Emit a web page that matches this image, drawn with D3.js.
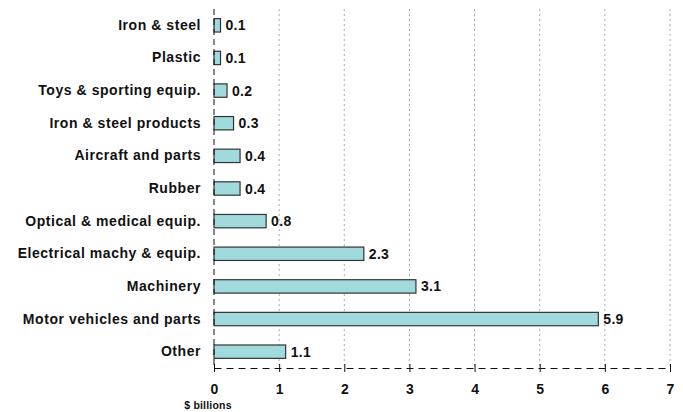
<!DOCTYPE html>
<html>
<head>
<meta charset="utf-8">
<script src="https://cdn.jsdelivr.net/npm/d3@7"></script>
<style>
  html, body { margin: 0; padding: 0; background: #fff; }
  svg { display: block; font-family: "Liberation Sans", Arial, sans-serif; }
</style>
</head>
<body>
<svg id="chart" width="683" height="412"></svg>
<script>
// Categories from top to bottom and their values ($ billions)
const categories = [
  "Iron & steel", "Plastic", "Toys & sporting equip.", "Iron & steel products",
  "Aircraft and parts", "Rubber", "Optical & medical equip.",
  "Electrical machy & equip.", "Machinery", "Motor vehicles and parts", "Other"
];
const values = [0.1, 0.1, 0.2, 0.3, 0.4, 0.4, 0.8, 2.3, 3.1, 5.9, 1.1];
const xTicks = [0, 1, 2, 3, 4, 5, 6, 7];
const xTitle = "$ billions";

const svg = d3.select("#chart");
const plotLeft = 214, plotRight = 670, plotTop = 9, plotBottom = 368;
const fontFamily = "Liberation Sans, Arial, sans-serif";

const x = d3.scaleLinear().domain([0, 7]).range([plotLeft, plotRight]);
const y = d3.scaleBand().domain(categories).range([plotTop, plotBottom]).paddingInner(0.59).paddingOuter(0.295);

// Dotted vertical gridlines
svg.append("g")
  .selectAll("line")
  .data(xTicks.filter(d => d > 0))
  .join("line")
  .attr("x1", d => x(d)).attr("x2", d => x(d))
  .attr("y1", plotTop).attr("y2", plotBottom)
  .attr("stroke", "#aaa")
  .attr("stroke-width", 1)
  .attr("stroke-dasharray", "2,3");

// Bars
svg.append("g")
  .selectAll("rect")
  .data(categories)
  .join("rect")
  .attr("x", x(0))
  .attr("y", d => y(d))
  .attr("width", (d, i) => x(values[i]) - x(0))
  .attr("height", y.bandwidth())
  .attr("fill", "#a0dadd")
  .attr("stroke", "#333")
  .attr("stroke-width", 1.2);

// Value labels
svg.append("g")
  .selectAll("text")
  .data(categories)
  .join("text")
  .attr("x", (d, i) => x(values[i]) + 5)
  .attr("y", d => y(d) + y.bandwidth() / 2)
  .attr("dy", "0.36em")
  .attr("font-size", 14)
  .attr("letter-spacing", 0.3)
  .attr("font-weight", "bold")
  .attr("fill", "#111")
  .text((d, i) => values[i].toFixed(1));

// Category axis (dashed)
const yAxis = svg.append("g").attr("transform", `translate(${plotLeft},0)`)
  .call(d3.axisLeft(y).tickSize(0).tickPadding(13));
yAxis.select(".domain").attr("stroke", "#111").attr("stroke-dasharray", "6,4").attr("d", `M0,${plotTop}V${plotBottom}`);
yAxis.selectAll("text").attr("font-size", 14).attr("letter-spacing", 0.55).attr("font-weight", "bold").attr("fill", "#111")
  .attr("font-family", fontFamily);

// Value axis (dashed, ticks straddling the line)
const xAxis = svg.append("g").attr("transform", `translate(0,${plotBottom})`)
  .call(d3.axisBottom(x).tickValues(xTicks).tickFormat(d3.format("d")).tickSizeInner(4).tickSizeOuter(0).tickPadding(12));
xAxis.select(".domain").attr("stroke", "#111").attr("stroke-dasharray", "7,5");
xAxis.selectAll(".tick line").attr("y1", -4).attr("y2", 4).attr("stroke", "#111");
xAxis.selectAll("text").attr("font-size", 14).attr("font-weight", "bold").attr("fill", "#111")
  .attr("font-family", fontFamily);

// Axis title
svg.append("text")
  .attr("x", 208).attr("y", 409)
  .attr("text-anchor", "middle")
  .attr("font-size", 10.5)
  .attr("letter-spacing", 0.2)
  .attr("font-weight", "bold")
  .attr("fill", "#111")
  .text(xTitle);
</script>
</body>
</html>
